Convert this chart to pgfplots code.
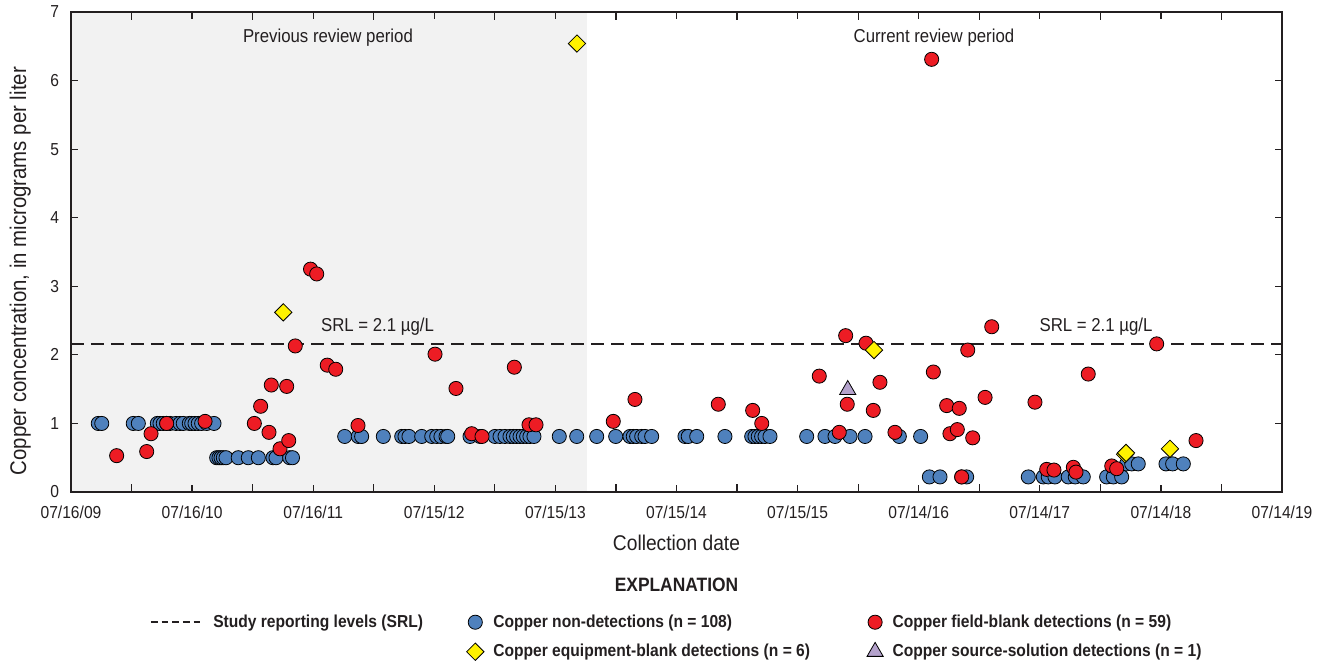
\documentclass[border=0pt]{standalone}
\usepackage{fontspec}
\setmainfont{Liberation Sans}[FakeStretch=0.9]
\usepackage{pgfplots}
\pgfplotsset{compat=1.18}
\definecolor{cblue}{HTML}{4F81BD}
\definecolor{cred}{HTML}{ED1C24}
\definecolor{cyellow}{HTML}{FFF200}
\definecolor{cpurple}{HTML}{B4A2CC}
\definecolor{shade}{HTML}{F2F2F2}
\definecolor{textc}{HTML}{231F20}
\pgfplotstableread{
x y
0.225 1.0
0.254 1.0
0.514 1.0
0.556 1.0
0.713 1.0
0.735 1.0
0.762 1.0
0.790 1.0
0.818 1.0
0.867 1.0
0.900 1.0
0.927 1.0
0.977 1.0
0.997 1.0
1.024 1.0
1.051 1.0
1.079 1.0
1.121 1.0
1.181 1.0
1.203 0.5
1.222 0.5
1.239 0.5
1.258 0.5
1.280 0.5
1.381 0.5
1.464 0.5
1.547 0.5
1.668 0.5
1.693 0.5
1.806 0.5
1.829 0.5
2.260 0.81
2.372 0.81
2.400 0.81
2.579 0.81
2.731 0.81
2.758 0.81
2.791 0.81
2.896 0.81
2.979 0.81
3.020 0.81
3.055 0.81
3.097 0.81
3.111 0.81
3.295 0.81
3.377 0.81
3.501 0.81
3.543 0.81
3.584 0.81
3.625 0.81
3.652 0.81
3.680 0.81
3.708 0.81
3.735 0.81
3.763 0.81
3.790 0.81
3.823 0.81
4.032 0.81
4.176 0.81
4.341 0.81
4.498 0.81
4.616 0.81
4.643 0.81
4.671 0.81
4.713 0.81
4.740 0.81
4.795 0.81
5.070 0.81
5.097 0.81
5.167 0.81
5.400 0.81
5.621 0.81
5.648 0.81
5.675 0.81
5.703 0.81
5.731 0.81
5.772 0.81
6.075 0.81
6.226 0.81
6.309 0.81
6.433 0.81
6.557 0.81
6.840 0.81
7.016 0.81
7.088 0.22
7.176 0.22
7.355 0.22
7.396 0.22
7.905 0.22
8.029 0.22
8.070 0.22
8.125 0.22
8.235 0.22
8.293 0.22
8.359 0.22
8.552 0.22
8.607 0.22
8.676 0.22
8.717 0.41
8.759 0.41
8.813 0.41
9.042 0.41
9.097 0.41
9.185 0.41
}\bluedata
\pgfplotstableread{
x y
0.377 0.53
0.625 0.59
0.661 0.85
0.790 1.00
1.107 1.03
1.514 1.00
1.566 1.25
1.635 0.87
1.654 1.56
1.726 0.63
1.781 1.54
1.798 0.75
1.852 2.13
1.978 3.25
2.029 3.18
2.116 1.85
2.186 1.79
2.370 0.97
3.006 2.01
3.179 1.51
3.309 0.85
3.394 0.81
3.661 1.82
3.782 0.98
3.840 0.98
4.478 1.03
4.657 1.35
5.345 1.28
5.629 1.19
5.704 1.00
6.179 1.69
6.344 0.87
6.397 2.28
6.410 1.28
6.565 2.17
6.625 1.19
6.680 1.60
6.804 0.87
7.107 6.31
7.121 1.75
7.231 1.26
7.258 0.85
7.319 0.91
7.335 1.22
7.355 0.22
7.405 2.07
7.446 0.79
7.548 1.38
7.603 2.41
7.960 1.31
8.057 0.33
8.117 0.32
8.277 0.36
8.299 0.29
8.400 1.72
8.594 0.38
8.635 0.34
8.965 2.16
9.290 0.75
}\reddata
\pgfplotstableread{
x y
1.753 2.62
4.178 6.54
6.631 2.07
8.704 0.55
8.712 0.57
9.075 0.63
}\yellowdata
\pgfplotstableread{
x y
6.414 1.49
}\purpledata
\begin{document}
\begin{tikzpicture}
\path[use as bounding box] (-53.25pt,-126.75pt) rectangle (938.25pt,369pt);
\begin{axis}[
  name=ax,
  at={(0,0)}, anchor=south west,
  scale only axis, width=908.25pt, height=360pt,
  xmin=0, xmax=10, ymin=0, ymax=7,
  xtick={0,1,...,10},
  xticklabels={07/16/09,07/16/10,07/16/11,07/15/12,07/15/13,07/15/14,07/15/15,07/14/16,07/14/17,07/14/18,07/14/19},
  minor xtick={0.5,1.5,...,9.5},
  ytick={0,1,...,7},
  tick align=inside,
  major tick length=5pt, minor tick length=5.8pt,
  every tick/.style={textc, line width=0.9pt},
  axis line style={textc, line width=0.9pt},
  axis on top,
  /pgf/number format/assume math mode=true,
  ticklabel style={font=\fontsize{13}{15}\selectfont, text=textc},
  xticklabel style={anchor=center, yshift=-15pt},
  yticklabel style={xshift=-5.5pt},
  xlabel={Collection date},
  xlabel style={font=\fontsize{16}{18}\selectfont, text=textc, at={(rel axis cs:0.5,0)}, anchor=center, yshift=-38.25pt},
  ylabel={Copper concentration, in micrograms per liter},
  ylabel style={font=\fontsize{17}{19}\selectfont, text=textc, at={(rel axis cs:0,0.46)}, anchor=center, yshift=38pt},
  legend columns=3,
  legend cell align=left,
  legend style={at={(rel axis cs:0,0)}, anchor=north west, xshift=56pt, yshift=-88pt,
    draw=none, fill=none, font=\bfseries\fontsize{13}{15}\selectfont, text=textc,
    /tikz/every odd column/.append style={column sep=5pt},
    /tikz/every even column/.append style={column sep=30.7pt},
    row sep=7.2pt},
]
\addplot[fill=shade, draw=none, forget plot] coordinates {(0,7) (4.26,7)} \closedcycle;
\node[font=\fontsize{14}{16}\selectfont, text=textc] at (axis cs:2.122,6.62) {Previous review period};
\node[font=\fontsize{14}{16}\selectfont, text=textc] at (axis cs:7.126,6.62) {Current review period};
\node[font=\fontsize{14}{16}\selectfont, text=textc] at (axis cs:2.531,2.414) {SRL = 2.1 µg/L};
\node[font=\fontsize{14}{16}\selectfont, text=textc] at (axis cs:8.464,2.414) {SRL = 2.1 µg/L};
\addplot[textc, line width=2pt, dash pattern=on 9.5pt off 5.5pt,
  legend image code/.code={\draw[textc, line width=1.5pt, dash pattern=on 5pt off 3pt] (0pt,0pt) -- (39pt,0pt);}]
  coordinates {(0,2.16) (10,2.16)};
\addlegendentry{Study reporting levels (SRL)}
\addplot[only marks, mark=*, mark size=5.3pt, mark options={fill=cblue, draw=black, line width=0.6pt}] table[x=x,y=y] {\bluedata};
\addlegendentry{Copper non-detections (n = 108)}
\addplot[only marks, mark=*, mark size=5.3pt, mark options={fill=cred, draw=black, line width=0.6pt}] table[x=x,y=y] {\reddata};
\addlegendentry{Copper field-blank detections (n = 59)}
\addlegendimage{empty legend}
\addlegendentry{}
\addplot[only marks, mark=square*, mark size=4.6pt, mark options={rotate=45, fill=cyellow, draw=black, line width=0.6pt}] table[x=x,y=y] {\yellowdata};
\addlegendentry{Copper equipment-blank detections (n = 6)\hspace*{10pt}}
\addplot[only marks, mark=triangle*, mark size=7pt, mark options={fill=cpurple, draw=black, line width=0.6pt}] table[x=x,y=y] {\purpledata};
\addlegendentry{Copper source-solution detections (n = 1)}
\end{axis}
\node[font=\bfseries\fontsize{14.5}{17}\selectfont, text=textc, yshift=-69.75pt] at (ax.south) {EXPLANATION};
\end{tikzpicture}
\end{document}
